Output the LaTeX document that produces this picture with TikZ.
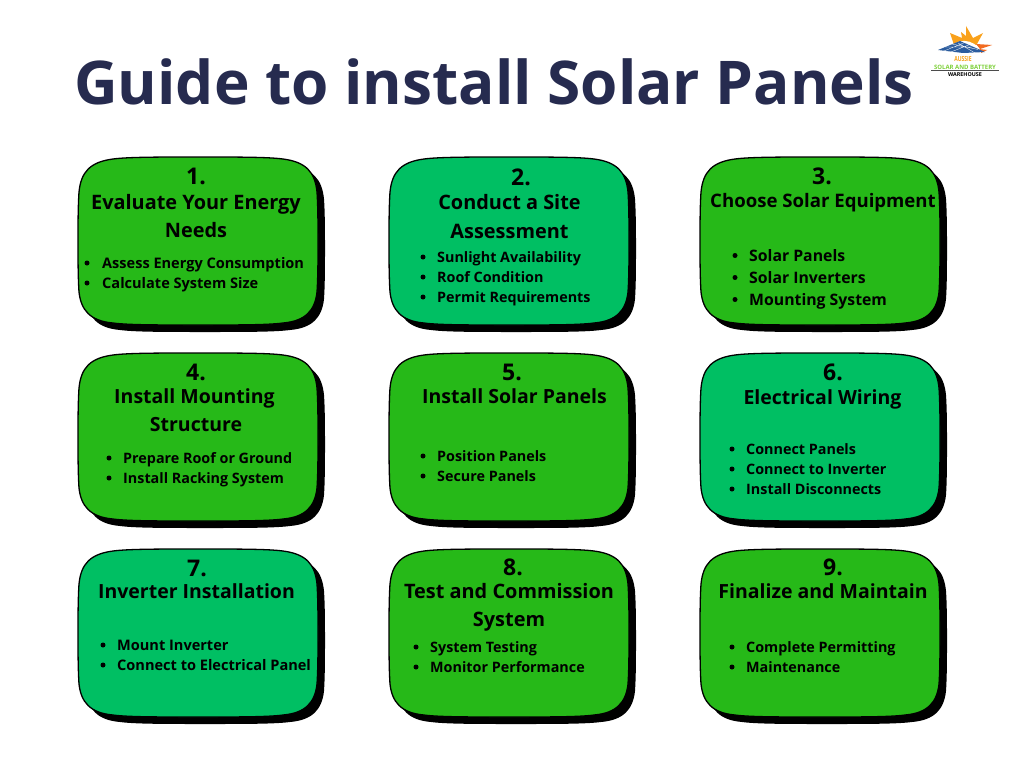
\documentclass[tikz,border=0pt]{standalone}
\usepackage{fontspec}
\setmainfont{Open Sans}
\definecolor{lime}{HTML}{26B918}
\definecolor{teal2}{HTML}{00BF63}
\definecolor{navy}{HTML}{262B4F}
\definecolor{sunA}{HTML}{F9A11B}
\definecolor{sunB}{HTML}{F26B21}
\definecolor{panelblue}{HTML}{2B5C9E}
\definecolor{logogreen}{HTML}{7FD13B}
\tikzset{
 title/.style={font=\bfseries\fontsize{60.3}{60.3}\selectfont,text=navy,anchor=base west,inner sep=0pt},
 num/.style={font=\bfseries\fontsize{23}{23}\selectfont,anchor=base,inner sep=0pt},
 head/.style={font=\bfseries\fontsize{19.9}{19.9}\selectfont,anchor=base,inner sep=0pt},
 headmid/.style={head,font=\bfseries\fontsize{19.5}{19.5}\selectfont},
 headsmall/.style={head,font=\bfseries\fontsize{18.6}{18.6}\selectfont},
 item/.style={font=\bfseries\fontsize{14.35}{14.35}\selectfont,anchor=base west,inner sep=0pt},
 itemwide/.style={item,font=\bfseries\fontsize{14.55}{14.55}\selectfont},
 itembig/.style={item,font=\bfseries\fontsize{15.8}{15.8}\selectfont},
 bdot/.style={circle,fill=black,inner sep=0pt,minimum size=5pt},
 logotxt/.style={inner sep=0pt,anchor=base},
}
\newcommand{\cardpath}{(120,0) .. controls (160,0) and (190,0) .. (205,2)
 .. controls (228,5) and (237,15) .. (239,35) .. controls (240,50) and (240,70) .. (240,84)
 .. controls (240,100) and (240,120) .. (239,135) .. controls (237,153) and (228,164) .. (205,166)
 .. controls (190,168) and (160,168) .. (120,168) .. controls (80,168) and (50,168) .. (35,166)
 .. controls (12,164) and (3,153) .. (1,135) .. controls (0,120) and (0,100) .. (0,84)
 .. controls (0,70) and (0,50) .. (1,35) .. controls (3,15) and (12,5) .. (35,2)
 .. controls (50,0) and (80,0) .. (120,0) -- cycle}
\newcommand{\card}[3]{%
 \begin{scope}[shift={(#1,#2)}]
  \fill[black,shift={(7,7)}] \cardpath;
  \draw[black,line width=1.3pt,fill=#3] \cardpath;
 \end{scope}}
% \bul{name}{x of dot}{x of text}{baseline y}{text}
\newcommand{\bul}[5]{%
 \node[bdot] (#1d) at (#2,#4-5) {};
 \node[item] (#1) at (#3,#4) {#5};}
\newcommand{\bulwide}[5]{%
 \node[bdot] (#1d) at (#2,#4-5) {};
 \node[itemwide] (#1) at (#3,#4) {#5};}
\newcommand{\bulbig}[5]{%
 \node[bdot] (#1d) at (#2,#4-5.5) {};
 \node[itembig] (#1) at (#3,#4) {#5};}
\begin{document}
\begin{tikzpicture}[x=1pt,y=-1pt]
\useasboundingbox (0,0) rectangle (1024,768);
\fill[white] (0,0) rectangle (1024,768);
\node[title] (maintitle) at (74,104) {Guide to install Solar Panels};
% logo
\fill[sunA] (950,33) -- (962,38) -- (961,32) -- (966,36) -- (966,26) -- (973,38) -- (983,33) -- (977,44) -- (970,50) -- (955,48) -- cycle;
\fill[sunB] (976,44) -- (992,45) -- (980,49) -- cycle;
\fill[sunB] (979,49) -- (987,50) -- (981,53) -- cycle;
\fill[white] (949,52) .. controls (952,37) and (976,37) .. (981,53) -- cycle;
\fill[panelblue] (938,50) -- (960,41) -- (985,52) -- (963,53) -- cycle;
\draw[white,line width=.3pt] (945,47) -- (972,47) (952,44) -- (978,49.5) (944,51) -- (966,42) (951,52) -- (971,44) (958,43) -- (975,53);
\node[logotxt,text=sunA,xscale=.72,font=\bfseries\fontsize{7}{7}\selectfont] (la) at (963,62) {AUSSIE};
\node[logotxt,text=logogreen,font=\bfseries\fontsize{6}{6}\selectfont] (lb) at (965,69) {SOLAR AND BATTERY};
\draw[black!70,line width=.5pt] (931,70.5) -- (999,70.5);
\node[logotxt,font=\bfseries\fontsize{5.4}{5.4}\selectfont] (lc) at (965,76.5) {WAREHOUSE};
% cards
\card{78}{157}{lime}\card{389}{157}{teal2}\card{700}{157}{lime}
\card{78}{353}{lime}\card{389}{353}{lime}\card{700}{353}{teal2}
\card{78}{549}{teal2}\card{389}{549}{lime}\card{700}{549}{lime}
% 1
\node[num] (n1) at (196,184) {1.};
\node[head] (h1a) at (196,209) {Evaluate Your Energy};
\node[head] (h1b) at (196,237) {Needs};
\bulwide{i1a}{87}{102}{268}{Assess Energy Consumption}
\bulwide{i1b}{87}{102}{288}{Calculate System Size}
% 2
\node[num] (n2) at (521,185) {2.};
\node[head] (h2a) at (509.5,209) {Conduct a Site};
\node[head] (h2b) at (509.5,238) {Assessment};
\bul{i2a}{423}{437}{262}{Sunlight Availability}
\bul{i2b}{423}{437}{282}{Roof Condition}
\bul{i2c}{423}{437}{302}{Permit Requirements}
% 3
\node[num] (n3) at (822,184) {3.};
\node[headsmall] (h3a) at (823,207) {Choose Solar Equipment};
\bulbig{i3a}{735}{749}{261}{Solar Panels}
\bulbig{i3b}{735}{749}{283}{Solar Inverters}
\bulbig{i3c}{735}{749}{305}{Mounting System}
% 4
\node[num] (n4) at (196,380) {4.};
\node[headmid] (h4a) at (194.5,403) {Install Mounting};
\node[headmid] (h4b) at (196,431) {Structure};
\bul{i4a}{109}{123}{463}{Prepare Roof or Ground}
\bul{i4b}{109}{123}{483}{Install Racking System}
% 5
\node[num] (n5) at (512,380) {5.};
\node[headmid] (h5a) at (514.5,403) {Install Solar Panels};
\bul{i5a}{423}{437}{461}{Position Panels}
\bul{i5b}{423}{437}{481}{Secure Panels}
% 6
\node[num] (n6) at (833,380) {6.};
\node[headmid] (h6a) at (822.5,404) {Electrical Wiring};
\bul{i6a}{732}{746}{454}{Connect Panels}
\bul{i6b}{732}{746}{474}{Connect to Inverter}
\bul{i6c}{732}{746}{494}{Install Disconnects}
% 7
\node[num] (n7) at (197,576) {7.};
\node[headmid] (h7a) at (196.5,598) {Inverter Installation};
\bulwide{i7a}{103}{117}{650}{Mount Inverter}
\bulwide{i7b}{103}{117}{670}{Connect to Electrical Panel}
% 8
\node[num] (n8) at (513,575) {8.};
\node[head] (h8a) at (509,598) {Test and Commission};
\node[head] (h8b) at (509,626) {System};
\bul{i8a}{416}{430}{652}{System Testing}
\bul{i8b}{416}{430}{672}{Monitor Performance}
% 9
\node[num] (n9) at (833,575) {9.};
\node[headmid] (h9a) at (823,598) {Finalize and Maintain};
\bul{i9a}{732}{746}{652}{Complete Permitting}
\bul{i9b}{732}{746}{672}{Maintenance}
\end{tikzpicture}
\end{document}
